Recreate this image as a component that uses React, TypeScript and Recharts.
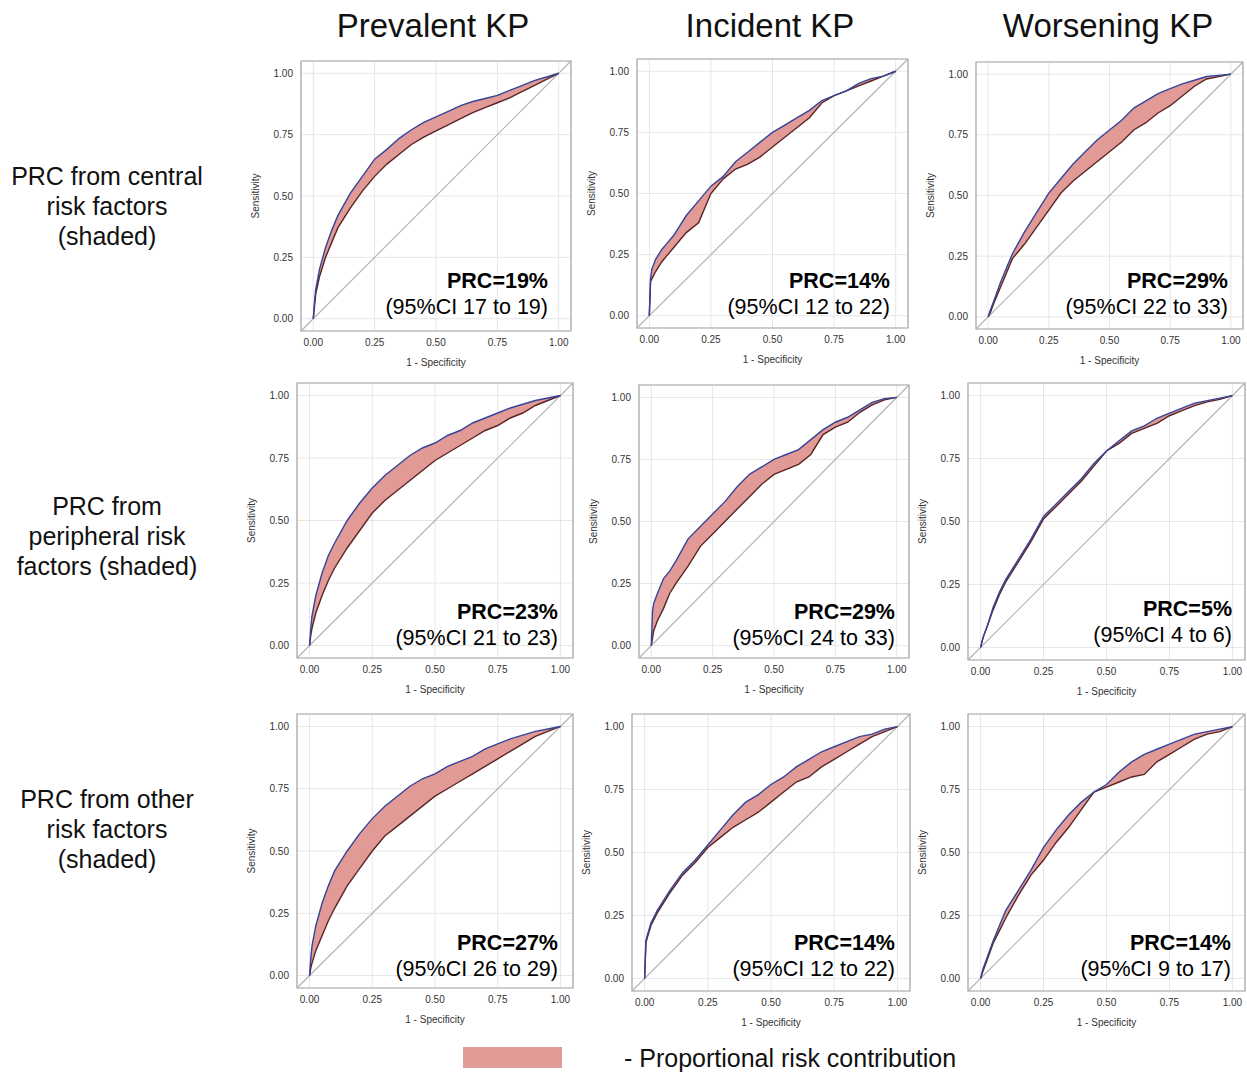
import React from 'react';
import {
  ComposedChart,
  Area,
  Line,
  XAxis,
  YAxis,
  CartesianGrid,
  ReferenceLine,
  ReferenceArea,
} from 'recharts';

// 1 - specificity grid shared by every curve
const fpr = [0, 0.005, 0.01, 0.025, 0.05, 0.075, 0.1, 0.15, 0.2, 0.25, 0.3, 0.35, 0.4, 0.45, 0.5, 0.55, 0.6, 0.65, 0.7, 0.75, 0.8, 0.85, 0.9, 0.95, 1];

const columnTitles = ['Prevalent KP', 'Incident KP', 'Worsening KP'];
const rowLabels = [
  ['PRC from central', 'risk factors', '(shaded)'],
  ['PRC from', 'peripheral risk', 'factors (shaded)'],
  ['PRC from other', 'risk factors', '(shaded)'],
];
const prcValues = ['19%', '14%', '29%', '23%', '29%', '5%', '27%', '14%', '14%'];
const ciValues = ['17 to 19', '12 to 22', '22 to 33', '21 to 23', '24 to 33', '4 to 6', '26 to 29', '12 to 22', '9 to 17'];

// sensitivity: full model (blue, upper) and without the risk factor group (dark, lower)
const prevCentralUp = [0, 0.07, 0.12, 0.2, 0.29, 0.36, 0.42, 0.51, 0.58, 0.65, 0.69, 0.735, 0.77, 0.8, 0.822, 0.845, 0.868, 0.885, 0.897, 0.91, 0.93, 0.95, 0.97, 0.985, 1];
const prevCentralLo = [0, 0.05, 0.1, 0.17, 0.25, 0.31, 0.37, 0.45, 0.52, 0.58, 0.63, 0.67, 0.71, 0.74, 0.765, 0.79, 0.815, 0.84, 0.86, 0.88, 0.9, 0.925, 0.95, 0.975, 1];
const incCentralUp = [0, 0.15, 0.19, 0.23, 0.27, 0.3, 0.33, 0.41, 0.47, 0.53, 0.57, 0.63, 0.67, 0.71, 0.75, 0.78, 0.81, 0.84, 0.88, 0.9, 0.92, 0.95, 0.97, 0.98, 1];
const incCentralLo = [0, 0.14, 0.15, 0.18, 0.22, 0.25, 0.28, 0.34, 0.38, 0.5, 0.56, 0.6, 0.62, 0.65, 0.69, 0.73, 0.77, 0.81, 0.87, 0.9, 0.92, 0.94, 0.96, 0.98, 1];
const worCentralUp = [0, 0.015, 0.03, 0.07, 0.14, 0.2, 0.26, 0.35, 0.43, 0.51, 0.57, 0.63, 0.68, 0.73, 0.77, 0.81, 0.86, 0.89, 0.92, 0.94, 0.96, 0.975, 0.99, 0.995, 1];
const worCentralLo = [0, 0.01, 0.02, 0.06, 0.12, 0.18, 0.24, 0.3, 0.37, 0.44, 0.51, 0.56, 0.6, 0.64, 0.68, 0.72, 0.77, 0.8, 0.84, 0.87, 0.91, 0.95, 0.98, 0.99, 1];
const prevPeriphUp = [0, 0.07, 0.12, 0.2, 0.29, 0.36, 0.41, 0.5, 0.57, 0.63, 0.68, 0.72, 0.76, 0.79, 0.81, 0.84, 0.86, 0.89, 0.91, 0.93, 0.95, 0.965, 0.98, 0.99, 1];
const prevPeriphLo = [0, 0.04, 0.07, 0.13, 0.2, 0.26, 0.31, 0.39, 0.46, 0.53, 0.58, 0.62, 0.66, 0.7, 0.74, 0.77, 0.8, 0.83, 0.86, 0.88, 0.91, 0.93, 0.96, 0.98, 1];
const incPeriphUp = [0, 0.14, 0.17, 0.21, 0.27, 0.3, 0.34, 0.43, 0.48, 0.53, 0.58, 0.64, 0.69, 0.72, 0.75, 0.77, 0.79, 0.83, 0.87, 0.9, 0.92, 0.95, 0.98, 0.995, 1];
const incPeriphLo = [0, 0.03, 0.06, 0.1, 0.15, 0.21, 0.25, 0.32, 0.4, 0.45, 0.5, 0.55, 0.6, 0.65, 0.69, 0.71, 0.73, 0.77, 0.85, 0.88, 0.9, 0.94, 0.97, 0.99, 1];
const worPeriphUp = [0, 0.02, 0.04, 0.08, 0.16, 0.22, 0.27, 0.35, 0.43, 0.52, 0.57, 0.62, 0.67, 0.73, 0.78, 0.82, 0.86, 0.88, 0.91, 0.93, 0.95, 0.97, 0.98, 0.99, 1];
const worPeriphLo = [0, 0.02, 0.04, 0.08, 0.15, 0.21, 0.26, 0.34, 0.42, 0.51, 0.56, 0.61, 0.66, 0.72, 0.78, 0.81, 0.85, 0.87, 0.89, 0.92, 0.94, 0.96, 0.975, 0.985, 1];
const prevOtherUp = [0, 0.07, 0.12, 0.2, 0.29, 0.36, 0.42, 0.5, 0.57, 0.63, 0.68, 0.72, 0.76, 0.79, 0.81, 0.84, 0.86, 0.88, 0.91, 0.93, 0.95, 0.965, 0.98, 0.99, 1];
const prevOtherLo = [0, 0.03, 0.05, 0.1, 0.16, 0.22, 0.27, 0.36, 0.43, 0.5, 0.56, 0.6, 0.64, 0.68, 0.72, 0.75, 0.78, 0.81, 0.84, 0.87, 0.9, 0.93, 0.96, 0.98, 1];
const incOtherUp = [0, 0.15, 0.17, 0.22, 0.27, 0.31, 0.35, 0.42, 0.47, 0.53, 0.59, 0.65, 0.7, 0.73, 0.77, 0.8, 0.84, 0.87, 0.9, 0.92, 0.94, 0.96, 0.97, 0.99, 1];
const incOtherLo = [0, 0.14, 0.16, 0.21, 0.26, 0.3, 0.34, 0.41, 0.46, 0.52, 0.56, 0.6, 0.63, 0.66, 0.7, 0.74, 0.78, 0.8, 0.84, 0.87, 0.9, 0.93, 0.96, 0.98, 1];
const worOtherUp = [0, 0.02, 0.04, 0.08, 0.15, 0.21, 0.27, 0.35, 0.43, 0.52, 0.59, 0.65, 0.7, 0.74, 0.77, 0.82, 0.86, 0.89, 0.91, 0.93, 0.95, 0.97, 0.98, 0.99, 1];
const worOtherLo = [0, 0.015, 0.03, 0.07, 0.14, 0.19, 0.24, 0.33, 0.41, 0.47, 0.54, 0.6, 0.67, 0.74, 0.76, 0.78, 0.8, 0.81, 0.86, 0.89, 0.92, 0.95, 0.97, 0.98, 1];

const curves = [
  [prevCentralUp, prevCentralLo],
  [incCentralUp, incCentralLo],
  [worCentralUp, worCentralLo],
  [prevPeriphUp, prevPeriphLo],
  [incPeriphUp, incPeriphLo],
  [worPeriphUp, worPeriphLo],
  [prevOtherUp, prevOtherLo],
  [incOtherUp, incOtherLo],
  [worOtherUp, worOtherLo],
];

// plot frame boxes on the page
const frames = [
  { left: 301, top: 61, w: 270, h: 270, textRight: 548, textTop: 268 },
  { left: 637, top: 59, w: 271, h: 269, textRight: 890, textTop: 268 },
  { left: 976, top: 62, w: 267, h: 267, textRight: 1228, textTop: 268 },
  { left: 297, top: 383, w: 276, h: 275, textRight: 558, textTop: 599 },
  { left: 639, top: 385, w: 270, h: 273, textRight: 895, textTop: 599 },
  { left: 968, top: 383, w: 277, h: 277, textRight: 1232, textTop: 596 },
  { left: 297, top: 714, w: 276, h: 274, textRight: 558, textTop: 930 },
  { left: 632, top: 714, w: 278, h: 277, textRight: 895, textTop: 930 },
  { left: 968, top: 714, w: 277, h: 277, textRight: 1231, textTop: 930 },
];

const FONT = '"Liberation Sans", Arial, sans-serif';
const SHADE = '#e29a97';
const YW = 52;
const XH = 40;
const TICKS = [0, 0.25, 0.5, 0.75, 1];

const RocPanel = ({ idx }: { idx: number }) => {
  const f = frames[idx];
  const [up, lo] = curves[idx];
  const data = fpr.map((x, i) => ({ x, band: [lo[i], up[i]], upper: up[i], lower: lo[i] }));
  const tick = { fontSize: 10, fill: '#333', fontFamily: FONT };

  return (
    <div style={{ position: 'absolute', left: f.left - YW, top: f.top - 2 }}>
      <ComposedChart
        width={YW + f.w + 4}
        height={f.h + XH + 2}
        data={data}
        margin={{ top: 2, right: 4, left: 0, bottom: 0 }}
      >
        <CartesianGrid stroke="#e6e6e6" />
        <XAxis
          type="number"
          dataKey="x"
          domain={[-0.05, 1.05]}
          ticks={TICKS}
          allowDataOverflow
          tickFormatter={(v: number) => v.toFixed(2)}
          tickLine={false}
          axisLine={false}
          height={XH}
          tick={tick}
          label={{ value: '1 - Specificity', position: 'insideBottom', offset: 5, fontSize: 10, fill: '#333', fontFamily: FONT }}
        />
        <YAxis
          type="number"
          domain={[-0.05, 1.05]}
          ticks={TICKS}
          allowDataOverflow
          tickFormatter={(v: number) => v.toFixed(2)}
          tickLine={false}
          axisLine={false}
          width={YW}
          tick={tick}
          label={{
            value: 'Sensitivity',
            angle: -90,
            position: 'insideLeft',
            offset: 6,
            fontSize: 10,
            fill: '#333',
            fontFamily: FONT,
            style: { textAnchor: 'middle' },
          }}
        />
        <ReferenceLine
          segment={[{ x: -0.05, y: -0.05 }, { x: 1.05, y: 1.05 }]}
          stroke="#b4b4b4"
          strokeWidth={1.2}
        />
        <Area
          type="linear"
          dataKey="band"
          fill={SHADE}
          fillOpacity={1}
          stroke="none"
          isAnimationActive={false}
        />
        <Line type="linear" dataKey="lower" stroke="#5a2424" strokeWidth={1.4} dot={false} isAnimationActive={false} />
        <Line type="linear" dataKey="upper" stroke="#34449a" strokeWidth={1.4} dot={false} isAnimationActive={false} />
        <ReferenceArea x1={-0.05} x2={1.05} y1={-0.05} y2={1.05} fill="none" stroke="#a8a8a8" strokeWidth={1.2} />
      </ComposedChart>
    </div>
  );
};

const App = () => {
  const colCenters = [433, 770, 1108];
  const rowTops = [161, 491, 784];

  return (
    <div style={{ position: 'absolute', left: 0, top: 0, width: 1247, height: 1074, background: '#fff', fontFamily: FONT, color: '#111' }}>
      {columnTitles.map((t, i) => (
        <div key={t} style={{ position: 'absolute', top: 9, left: colCenters[i] - 150, width: 300, textAlign: 'center', fontSize: 33, lineHeight: '33px' }}>
          {t}
        </div>
      ))}
      {rowLabels.map((lines, i) => (
        <div key={i} style={{ position: 'absolute', top: rowTops[i], left: 0, width: 214, textAlign: 'center', fontSize: 25, lineHeight: '30px' }}>
          {lines.map((l) => (
            <div key={l}>{l}</div>
          ))}
        </div>
      ))}
      {frames.map((f, i) => (
        <RocPanel key={i} idx={i} />
      ))}
      {frames.map((f, i) => (
        <div key={`t${i}`} style={{ position: 'absolute', top: f.textTop, left: f.textRight - 240, width: 240, textAlign: 'right', fontSize: 21.5, lineHeight: '26px', color: '#000' }}>
          <div style={{ fontWeight: 'bold' }}>PRC={prcValues[i]}</div>
          <div>(95%CI {ciValues[i]})</div>
        </div>
      ))}
      <div style={{ position: 'absolute', left: 463, top: 1047, width: 99, height: 21, background: SHADE }} />
      <div style={{ position: 'absolute', left: 624, top: 1043, fontSize: 25, lineHeight: '30px', whiteSpace: 'nowrap' }}>
        - Proportional risk contribution
      </div>
    </div>
  );
};

export default App;
